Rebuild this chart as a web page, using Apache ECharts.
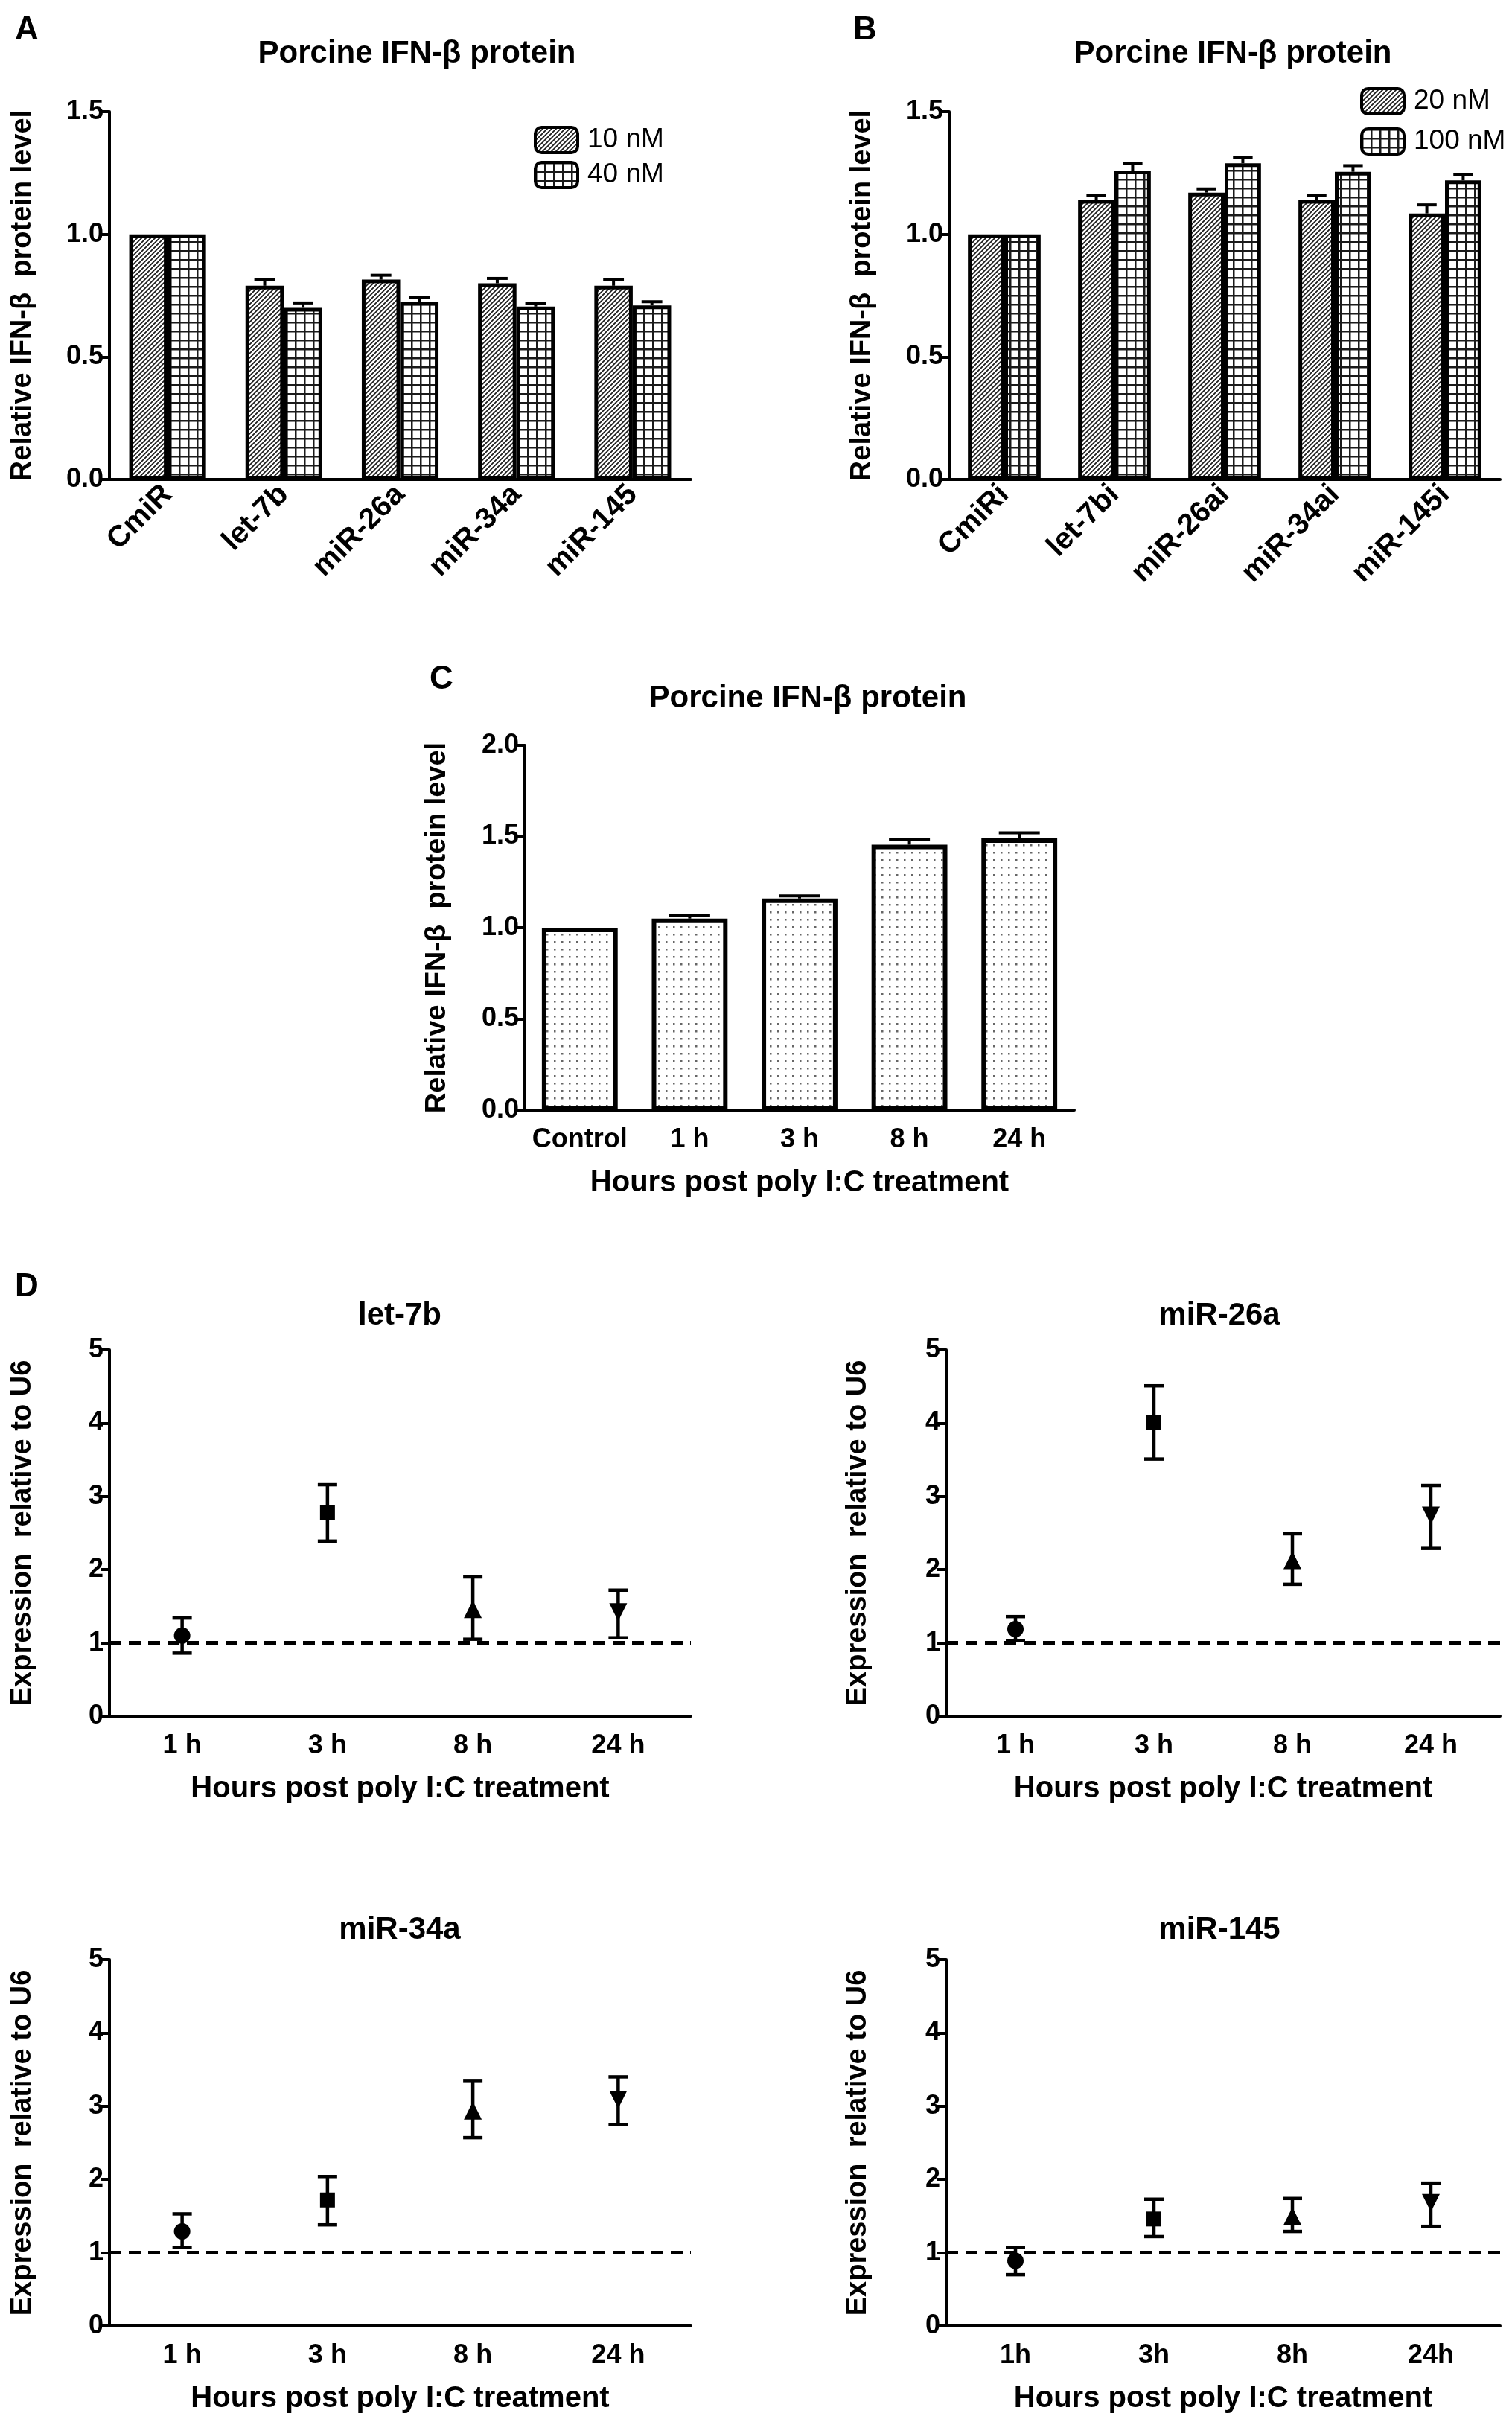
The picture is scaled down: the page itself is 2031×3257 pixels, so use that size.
<!DOCTYPE html>
<html>
<head>
<meta charset="utf-8">
<title>Porcine IFN-beta protein</title>
<script src="https://cdn.jsdelivr.net/npm/echarts/dist/echarts.min.js"></script>
<style>
  html, body { margin: 0; padding: 0; background: #fff; }
  #main { width: 2031px; height: 3257px; }
</style>
</head>
<body>
<div id="main"></div>
<script>
// panel A
var catsA = ['CmiR', 'let-7b', 'miR-26a', 'miR-34a', 'miR-145'];
var a10nM = [1.0, 0.79, 0.815, 0.80, 0.79];
var a10nMErr = [0, 0.025, 0.018, 0.02, 0.025];
var a40nM = [1.0, 0.70, 0.725, 0.705, 0.71];
var a40nMErr = [0, 0.02, 0.018, 0.012, 0.015];

// panel B
var catsB = ['CmiRi', 'let-7bi', 'miR-26ai', 'miR-34ai', 'miR-145i'];
var b20nM = [1.0, 1.14, 1.17, 1.14, 1.085];
var b20nMErr = [0, 0.02, 0.015, 0.02, 0.035];
var b100nM = [1.0, 1.26, 1.29, 1.255, 1.22];
var b100nMErr = [0, 0.03, 0.022, 0.025, 0.025];

// panel C
var catsC = ['Control', '1 h', '3 h', '8 h', '24 h'];
var cProtein = [1.0, 1.05, 1.16, 1.455, 1.49];
var cProteinErr = [0, 0.015, 0.015, 0.03, 0.03];

// panel D
var hoursD = ['1 h', '3 h', '8 h', '24 h'];
var hoursD145 = ['1h', '3h', '8h', '24h'];
var let7bMean = [1.10, 2.78, 1.46, 1.42];
var let7bLow = [0.86, 2.39, 1.05, 1.07];
var let7bHigh = [1.34, 3.16, 1.90, 1.72];
var miR26aMean = [1.19, 4.01, 2.13, 2.74];
var miR26aLow = [1.03, 3.51, 1.80, 2.29];
var miR26aHigh = [1.36, 4.51, 2.49, 3.15];
var miR34aMean = [1.29, 1.72, 2.94, 3.09];
var miR34aLow = [1.07, 1.38, 2.57, 2.75];
var miR34aHigh = [1.53, 2.04, 3.35, 3.40];
var miR145Mean = [0.89, 1.46, 1.50, 1.68];
var miR145Low = [0.70, 1.22, 1.29, 1.36];
var miR145High = [1.07, 1.73, 1.74, 1.95];

var FONT = 'Liberation Sans';
var markerShapes = ['circle', 'rect', 'triangle', 'triangle'];
var markerRotate = [0, 0, 0, 180];
var markerSizes = [22, 20, 24, 24];

function pattern(kind) {
    var s = kind === 'diag' ? 6 : (kind === 'grid' ? 12 : 10);
    var c = document.createElement('canvas');
    c.width = s; c.height = s;
    var g = c.getContext('2d');
    g.fillStyle = '#fff';
    g.fillRect(0, 0, s, s);
    if (kind === 'diag') {
        g.strokeStyle = '#1a1a1a';
        g.lineWidth = 1.7;
        g.beginPath();
        g.moveTo(-1, 1); g.lineTo(1, -1);
        g.moveTo(0, s); g.lineTo(s, 0);
        g.moveTo(s - 1, s + 1); g.lineTo(s + 1, s - 1);
        g.stroke();
    } else if (kind === 'grid') {
        g.fillStyle = '#1a1a1a';
        g.fillRect(0, 0, s, 2.5);
        g.fillRect(0, 0, 2.5, s);
    } else {
        g.fillStyle = '#666';
        g.fillRect(4, 4, 2.5, 2.5);
    }
    return { image: c, repeat: 'repeat' };
}

var diagFill = pattern('diag');
var gridFill = pattern('grid');
var dotFill = pattern('dots');

var grids = [
    { left: 147, top: 150, width: 781, height: 494 },   // A
    { left: 1275, top: 150, width: 740, height: 494 },  // B
    { left: 705, top: 1001, width: 738, height: 490 },  // C
    { left: 147, top: 1813, width: 781, height: 492 },  // let-7b
    { left: 1271, top: 1813, width: 744, height: 492 }, // miR-26a
    { left: 147, top: 2632, width: 781, height: 492 },  // miR-34a
    { left: 1271, top: 2632, width: 744, height: 492 }  // miR-145
];

function xAxisFor(gi, cats, rotate, name) {
    return {
        type: 'category', gridIndex: gi, data: cats,
        axisLine: { lineStyle: { color: '#000', width: 4 } },
        axisTick: { alignWithLabel: true, length: 12, lineStyle: { color: '#000', width: 4 } },
        axisLabel: { color: '#000', fontFamily: FONT, fontWeight: 'bold', fontSize: rotate ? 40 : 36,
            rotate: rotate, margin: rotate ? 14 : 22, interval: 0 },
        name: name || '', nameLocation: 'middle', nameGap: 78,
        nameTextStyle: { color: '#000', fontFamily: FONT, fontWeight: 'bold', fontSize: 40 }
    };
}

function yAxisFor(gi, max, step, name, gap, decimals) {
    return {
        type: 'value', gridIndex: gi, min: 0, max: max, interval: step,
        axisLine: { show: true, lineStyle: { color: '#000', width: 4 } },
        axisTick: { show: true, length: 12, lineStyle: { color: '#000', width: 4 } },
        splitLine: { show: false },
        axisLabel: {
            color: '#000', fontFamily: FONT, fontWeight: 'bold', fontSize: 36, margin: 8,
            formatter: function (v) { return v.toFixed(decimals); }
        },
        name: name, nameLocation: 'middle', nameGap: gap,
        nameTextStyle: { color: '#000', fontFamily: FONT, fontWeight: 'bold', fontSize: 38 }
    };
}

// error bar sitting on top of a bar (only the upper half shows)
function barErr(side, nBars, gap) {
    return function (params, api) {
        var i = api.value(0), v = api.value(1), e = api.value(2);
        if (!e) return null;
        var band = api.size([1, 0])[0];
        var w = band * (1 - gap) / nBars;
        var p0 = api.coord([i, v]);
        var p1 = api.coord([i, v + e]);
        var x = p0[0] + (nBars === 2 ? side * w / 2 : 0);
        var hw = w * 0.27;
        var st = { stroke: '#000', lineWidth: 4 };
        return {
            type: 'group', children: [
                { type: 'line', shape: { x1: x, y1: p0[1], x2: x, y2: p1[1] }, style: st },
                { type: 'line', shape: { x1: x - hw, y1: p1[1], x2: x + hw, y2: p1[1] }, style: st }
            ]
        };
    };
}

function rangeErr(params, api) {
    var i = api.value(0);
    var a = api.coord([i, api.value(1)]);
    var b = api.coord([i, api.value(2)]);
    var hw = 13;
    var st = { stroke: '#000', lineWidth: 4.5 };
    return {
        type: 'group', children: [
            { type: 'line', shape: { x1: a[0], y1: a[1], x2: b[0], y2: b[1] }, style: st },
            { type: 'line', shape: { x1: a[0] - hw, y1: a[1], x2: a[0] + hw, y2: a[1] }, style: st },
            { type: 'line', shape: { x1: b[0] - hw, y1: b[1], x2: b[0] + hw, y2: b[1] }, style: st }
        ]
    };
}

var series = [];

function addBarPair(gi, n1, d1, e1, f1, n2, d2, e2, f2, gap) {
    series.push({ type: 'bar', name: n1, xAxisIndex: gi, yAxisIndex: gi, data: d1,
        barGap: '0%', barCategoryGap: (gap * 100) + '%',
        itemStyle: { color: f1, borderColor: '#000', borderWidth: 5 } });
    series.push({ type: 'bar', name: n2, xAxisIndex: gi, yAxisIndex: gi, data: d2,
        barGap: '0%', barCategoryGap: (gap * 100) + '%',
        itemStyle: { color: f2, borderColor: '#000', borderWidth: 5 } });
    series.push({ type: 'custom', xAxisIndex: gi, yAxisIndex: gi, z: 5,
        renderItem: barErr(-1, 2, gap), data: d1.map(function (v, i) { return [i, v, e1[i]]; }) });
    series.push({ type: 'custom', xAxisIndex: gi, yAxisIndex: gi, z: 5,
        renderItem: barErr(1, 2, gap), data: d2.map(function (v, i) { return [i, v, e2[i]]; }) });
}

addBarPair(0, '10 nM', a10nM, a10nMErr, diagFill, '40 nM', a40nM, a40nMErr, gridFill, 0.34);
addBarPair(1, '20 nM', b20nM, b20nMErr, diagFill, '100 nM', b100nM, b100nMErr, gridFill, 0.34);

series.push({ type: 'bar', xAxisIndex: 2, yAxisIndex: 2, data: cProtein, barCategoryGap: '31%',
    itemStyle: { color: dotFill, borderColor: '#000', borderWidth: 6 } });
series.push({ type: 'custom', xAxisIndex: 2, yAxisIndex: 2, z: 5, renderItem: barErr(0, 1, 0.31),
    data: cProtein.map(function (v, i) { return [i, v, cProteinErr[i]]; }) });

function addTimeCourse(gi, mean, low, high) {
    series.push({ type: 'custom', xAxisIndex: gi, yAxisIndex: gi, z: 4, renderItem: rangeErr,
        data: low.map(function (v, i) { return [i, v, high[i]]; }) });
    series.push({
        type: 'scatter', xAxisIndex: gi, yAxisIndex: gi, z: 6,
        itemStyle: { color: '#000', opacity: 1 },
        data: mean.map(function (v, i) {
            return { value: [i, v], symbol: markerShapes[i], symbolRotate: markerRotate[i], symbolSize: markerSizes[i] };
        }),
        markLine: {
            silent: true, symbol: ['none', 'none'], label: { show: false },
            lineStyle: { color: '#000', width: 5, type: [16, 10] },
            data: [{ yAxis: 1 }]
        }
    });
}

addTimeCourse(3, let7bMean, let7bLow, let7bHigh);
addTimeCourse(4, miR26aMean, miR26aLow, miR26aHigh);
addTimeCourse(5, miR34aMean, miR34aLow, miR34aHigh);
addTimeCourse(6, miR145Mean, miR145Low, miR145High);

var proteinName = 'Relative IFN-\u03b2  protein level';
var exprName = 'Expression  relative to U6';
var hoursName = 'Hours post poly I:C treatment';

function titleAt(text, x, y, size) {
    return { text: text, left: x, top: y, textAlign: 'center',
        textStyle: { color: '#000', fontFamily: FONT, fontWeight: 'bold', fontSize: size } };
}

var option = {
    animation: false,
    backgroundColor: '#fff',
    textStyle: { fontFamily: FONT },
    title: [
        titleAt('A', 31, 14, 44),
        titleAt('B', 1157, 14, 44),
        titleAt('C', 588, 886, 44),
        titleAt('D', 31, 1702, 44),
        titleAt('Porcine IFN-\u03b2 protein', 555, 46, 42),
        titleAt('Porcine IFN-\u03b2 protein', 1651, 46, 42),
        titleAt('Porcine IFN-\u03b2 protein', 1080, 912, 42),
        titleAt('let-7b', 532, 1741, 42),
        titleAt('miR-26a', 1633, 1741, 42),
        titleAt('miR-34a', 532, 2566, 42),
        titleAt('miR-145', 1633, 2566, 42)
    ],
    legend: [
        { data: ['10 nM', '40 nM'], orient: 'vertical', left: 712, top: 164, itemWidth: 57, itemHeight: 34,
          itemGap: 9, selectedMode: false, itemStyle: { borderColor: '#000', borderWidth: 4 },
          textStyle: { color: '#000', fontFamily: FONT, fontSize: 37, padding: [0, 0, 0, 8] } },
        { data: ['20 nM', '100 nM'], orient: 'vertical', left: 1822, top: 112, itemWidth: 57, itemHeight: 34,
          itemGap: 16, selectedMode: false, itemStyle: { borderColor: '#000', borderWidth: 4 },
          textStyle: { color: '#000', fontFamily: FONT, fontSize: 37, padding: [0, 0, 0, 8] } }
    ],
    grid: grids,
    xAxis: [
        xAxisFor(0, catsA, 45),
        xAxisFor(1, catsB, 45),
        xAxisFor(2, catsC, 0, hoursName),
        xAxisFor(3, hoursD, 0, hoursName),
        xAxisFor(4, hoursD, 0, hoursName),
        xAxisFor(5, hoursD, 0, hoursName),
        xAxisFor(6, hoursD145, 0, hoursName)
    ],
    yAxis: [
        yAxisFor(0, 1.5, 0.5, proteinName, 97, 1),
        yAxisFor(1, 1.5, 0.5, proteinName, 97, 1),
        yAxisFor(2, 2.0, 0.5, proteinName, 98, 1),
        yAxisFor(3, 5, 1, exprName, 97, 0),
        yAxisFor(4, 5, 1, exprName, 99, 0),
        yAxisFor(5, 5, 1, exprName, 97, 0),
        yAxisFor(6, 5, 1, exprName, 99, 0)
    ],
    series: series
};

var myChart = echarts.init(document.getElementById('main'), null, { width: 2031, height: 3257 });
myChart.setOption(option);
</script>
</body>
</html>
